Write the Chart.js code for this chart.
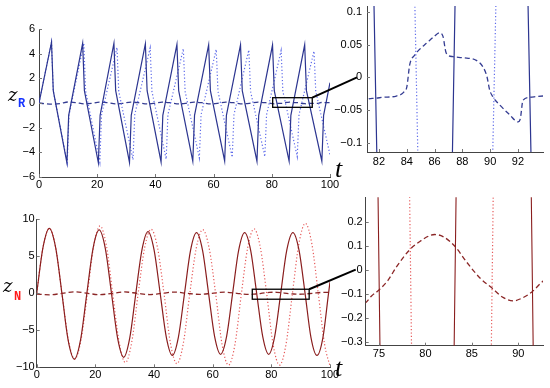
<!DOCTYPE html>
<html>
<head>
<meta charset="utf-8">
<script src="https://cdn.jsdelivr.net/npm/chart.js@4.4.1/dist/chart.umd.min.js"></script>
<style>
  body { margin: 0; background: #fff; }
  #wrap { position: relative; width: 550px; height: 388px; background: #fff; overflow: hidden; }
  #wrap canvas { position: absolute; }
  .lbl { position: absolute; white-space: nowrap; }
  .z { font-family: "DejaVu Serif", serif; font-style: italic; font-size: 18px; line-height: 18px; color: #000; }
  .sub { font-family: "Liberation Mono", monospace; font-weight: bold; font-size: 12px; line-height: 12px; }
  .t { font-family: "Liberation Serif", serif; font-style: italic; font-size: 26px; line-height: 26px; color: #000; }
</style>
</head>
<body>
<div id="wrap">
  <canvas id="rMain" width="365" height="195" style="left:0;top:0"></canvas>
  <canvas id="rZoom" width="220" height="175" style="left:330px;top:0"></canvas>
  <canvas id="nMain" width="365" height="193" style="left:0;top:195px"></canvas>
  <canvas id="nZoom" width="220" height="175" style="left:330px;top:190px"></canvas>
  <canvas id="overlay" width="550" height="388" style="left:0;top:0"></canvas>
  <div class="lbl z" style="left:8px;top:86px">z</div>
  <div class="lbl sub" style="left:18px;top:98px;color:#1533ff">R</div>
  <div class="lbl t" style="left:335px;top:156px">t</div>
  <div class="lbl z" style="left:3px;top:277px">z</div>
  <div class="lbl sub" style="left:14px;top:291px;color:#ff1a1a">N</div>
  <div class="lbl t" style="left:335px;top:355px">t</div>
</div>
<script>
// top row: z_R
const rSolidT = [0, 4.3, 4.9, 9.6, 10.2, 15.0, 15.6, 20.4, 21.0, 25.75, 26.35, 31.1, 31.7, 36.55, 37.15, 41.95, 42.55, 47.4, 48.0, 52.85, 53.45, 58.3, 58.9, 63.8, 64.4, 69.25, 69.85, 74.9, 75.5, 80.25, 80.85, 85.95, 86.55, 91.3, 91.9, 97.2, 97.8, 100];
const rSolidZ = [0, 4.93, 1.0, -4.85, -1.0, 4.85, 1.0, -4.85, -1.0, 4.85, 1.0, -4.82, -1.0, 4.8, 1.0, -4.78, -1.0, 4.75, 1.0, -4.72, -1.0, 4.72, 1.0, -4.7, -1.0, 4.72, 1.0, -4.72, -1.0, 4.7, 1.0, -4.72, -1.0, 4.72, 1.0, -4.72, -1.0, 1.65];

const rDotT = [0, 4.3, 4.9, 9.7, 10.3, 15.4, 16.0, 20.9, 21.5, 26.8, 27.4, 32.3, 32.9, 38.2, 38.8, 43.7, 44.3, 49.6, 50.2, 55.1, 55.7, 60.9, 61.5, 66.4, 67.0, 72.1, 72.7, 77.6, 78.2, 83.2, 83.8, 88.75, 89.35, 94.5, 95.1, 100];
const rDotZ = [0, 4.93, 1.0, -4.85, -1.0, 4.85, 1.0, -4.8, -0.95, 4.5, 0.95, -4.6, -0.95, 4.47, 0.95, -4.55, -0.95, 4.4, 0.95, -4.45, -0.95, 4.35, 0.95, -4.4, -0.95, 4.3, 0.95, -4.35, -0.95, 4.26, 0.95, -4.35, -0.95, 4.2, 0.95, -4.2];

const rDashT = [0, 2.0, 5.0, 7.3, 10.05, 12.6, 15.7, 18.0, 20.85, 23.4, 26.45, 28.8, 31.55, 34.1, 37.25, 39.5, 42.4, 45.0, 48.1, 50.4, 53.3, 55.9, 59.0, 61.3, 64.25, 66.8, 69.95, 72.3, 75.35, 77.9, 80.95,
  81.14, 81.57, 82.29, 83.25, 83.77, 84.01, 84.21, 84.57, 84.93, 85.41, 86.0, 86.36, 86.6, 86.84, 87.32, 88.04, 89.0, 89.48, 89.77, 89.96, 90.2, 90.68, 91.4, 92.0, 92.17, 92.36, 92.84, 93.8,
  96.0, 96.8, 97.65, 98.1, 100];
const rDashZ = [0, -0.06, -0.09, -0.04, 0.08, 0.035, -0.08, -0.035, 0.075, 0.03, -0.075, -0.03, 0.072, 0.03, -0.072, -0.03, 0.07, 0.03, -0.07, -0.03, 0.07, 0.03, -0.07, -0.03, 0.07, 0.03, -0.068, -0.03, 0.068, 0.028, -0.068,
  -0.0346, -0.032, -0.0305, -0.0285, -0.023, -0.014, 0.019, 0.034, 0.043, 0.052, 0.063, 0.068, 0.063, 0.037, 0.0316, 0.030, 0.026, 0.016, 0.001, -0.019, -0.030, -0.042, -0.057, -0.068, -0.063, -0.035, -0.0305, -0.0285,
  -0.025, 0.03, 0.068, 0.03, 0.028];

// bottom row: z_N
const nSolidT = [0, 2.15, 4.3, 6.45, 8.6, 10.7, 12.85, 14.95, 17.1, 19.2, 21.3, 23.4, 25.5, 27.6, 29.65, 31.7, 33.8, 35.9, 37.95, 40.0, 42.1, 44.2, 46.25, 48.3, 50.4, 52.45, 54.5, 56.55, 58.6, 60.65, 62.7, 64.75, 66.8, 68.85, 70.9, 72.95, 75.0, 77.05, 79.1, 81.15, 83.2, 85.25, 87.35, 89.45, 91.5, 93.5, 95.55, 97.6, 99.5, 100];
const nSolidZ = [0, 6.2, 8.78, 6.2, 0, -6.3, -8.9, -6.3, 0, 6.05, 8.56, 6.05, 0, -6.1, -8.65, -6.1, 0, 5.9, 8.33, 5.9, 0, -5.95, -8.4, -5.95, 0, 5.8, 8.2, 5.8, 0, -5.82, -8.24, -5.82, 0, 5.8, 8.2, 5.8, 0, -5.82, -8.24, -5.82, 0, 5.8, 8.2, 5.8, 0, -5.95, -8.4, -5.95, 0, 1.5];

const nDotT = [0, 2.15, 4.3, 6.45, 8.6, 10.8, 12.95, 15.1, 17.3, 19.45, 21.6, 23.75, 25.9, 28.1, 30.25, 32.4, 34.6, 36.8, 39.0, 41.2, 43.4, 45.6, 47.8, 50.0, 52.2, 54.4, 56.6, 58.8, 61.0, 63.2, 65.4, 67.6, 69.8, 71.95, 74.1, 76.25, 78.4, 80.6, 82.8, 85.0, 87.2, 89.4, 91.6, 93.8, 96.0, 98.2, 100];
const nDotZ = [0, 6.2, 8.78, 6.2, 0, -6.3, -8.9, -6.3, 0, 6.45, 9.1, 6.45, 0, -6.6, -9.35, -6.6, 0, 6.15, 8.65, 6.15, 0, -6.75, -9.5, -6.75, 0, 6.1, 8.6, 6.1, 0, -6.9, -9.7, -6.9, 0, 6.2, 8.7, 6.2, 0, -6.9, -9.7, -6.9, 0, 6.7, 9.45, 6.7, 0, -7.0, -9.85];

const nDashT = [0, 4.5, 8.75, 13.0, 17.25, 21.5, 25.75, 30.0, 34.25, 38.5, 42.75, 47.0, 51.25, 55.5, 59.75, 64.0, 68.25, 72.3, 73.5, 74.2, 75.0, 76.0, 76.9, 78.3, 79.4, 80.5, 81.0, 81.9, 83.2, 84.4, 85.9, 87.2, 88.4, 89.5, 90.5, 91.5, 92.3, 94.0, 98.0, 100];
const nDashZ = [-0.12, -0.2, 0, 0.19, 0, -0.19, 0, 0.18, 0, -0.17, 0, 0.16, 0, -0.15, 0, 0.15, 0, -0.15, -0.14, -0.11, -0.085, -0.043, 0.0125, 0.082, 0.117, 0.142, 0.146, 0.1375, 0.096, 0.033, -0.036, -0.078, -0.117, -0.13, -0.117, -0.092, -0.061, 0, 0.13, 0.1];

// tick labels
const mainTicksT = [0, 20, 40, 60, 80, 100];
const rTicksZ = [-6, -4, -2, 0, 2, 4, 6];
const nTicksZ = [-10, -5, 0, 5, 10];
const rZoomTicksT = [82, 84, 86, 88, 90, 92];
const rZoomTicksZ = [-0.1, -0.05, 0, 0.05, 0.1];
const nZoomTicksT = [75, 80, 85, 90];
const nZoomTicksZ = [-0.3, -0.2, -0.1, 0, 0.1, 0.2];

// zoom boxes [tMin, tMax, zMin, zMax]
const rBox = [80.3, 93.9, -0.35, 0.43];
const nBox = [73.5, 92.9, -0.8, 0.55];

const blue = { solid: "#2c3590", dot: "#5d6aea", dash: "#343c92" };
const red = { solid: "#8a1e1e", dot: "#e65a5a", dash: "#8b2626" };

function pts(ts, zs) {
  return ts.map((t, i) => ({ x: t, y: zs[i] }));
}

function fmt(v) {
  return String(v).replace("-", "\u2212");
}

const innerTicks = {
  id: "innerTicks",
  afterDraw(chart) {
    const ctx = chart.ctx;
    const a = chart.chartArea;
    ctx.save();
    ctx.strokeStyle = "#777";
    ctx.lineWidth = 1;
    ctx.beginPath();
    chart.scales.x.ticks.forEach((tk) => {
      const px = Math.round(chart.scales.x.getPixelForValue(tk.value)) + 0.5;
      ctx.moveTo(px, a.bottom);
      ctx.lineTo(px, a.bottom - 3);
    });
    chart.scales.y.ticks.forEach((tk) => {
      const py = Math.round(chart.scales.y.getPixelForValue(tk.value)) + 0.5;
      ctx.moveTo(a.left, py);
      ctx.lineTo(a.left + 3, py);
    });
    ctx.stroke();
    ctx.restore();
  },
};

function makeChart(id, opts) {
  const c = opts.colors;
  const w = opts.lineWidth || 1.2;
  return new Chart(document.getElementById(id), {
    type: "line",
    data: {
      datasets: [
        { data: pts(opts.solid[0], opts.solid[1]), borderColor: c.solid, borderWidth: w, tension: 0, cubicInterpolationMode: opts.smooth ? "monotone" : "default" },
        { data: pts(opts.dot[0], opts.dot[1]), borderColor: c.dot, borderWidth: 1.2, borderDash: [1.2, 2.2], tension: 0, cubicInterpolationMode: opts.smooth ? "monotone" : "default" },
        { data: pts(opts.dash[0], opts.dash[1]), borderColor: c.dash, borderWidth: 1.3, borderDash: [5, 3], cubicInterpolationMode: "monotone" },
      ],
    },
    options: {
      responsive: false,
      animation: false,
      events: [],
      layout: { padding: opts.pad },
      elements: { point: { radius: 0 } },
      plugins: { legend: { display: false }, tooltip: { enabled: false } },
      scales: {
        x: {
          type: "linear",
          min: opts.xr[0],
          max: opts.xr[1],
          grid: { display: false, drawTicks: false },
          border: { display: true, color: "#444", width: 1 },
          ticks: {
            color: "#000",
            font: { family: "Liberation Sans", size: 11 },
            padding: opts.xPad,
            maxRotation: 0,
            autoSkip: false,
            callback: fmt,
          },
          afterBuildTicks: (s) => { s.ticks = opts.xt.map((v) => ({ value: v })); },
          afterFit: (s) => { s.height = opts.xh; s.paddingLeft = 0; s.paddingRight = 0; },
        },
        y: {
          type: "linear",
          min: opts.yr[0],
          max: opts.yr[1],
          grid: { display: false, drawTicks: false },
          border: { display: true, color: "#444", width: 1 },
          ticks: {
            color: "#000",
            font: { family: "Liberation Sans", size: 11 },
            padding: opts.yPad,
            autoSkip: false,
            callback: fmt,
          },
          afterBuildTicks: (s) => { s.ticks = opts.yt.map((v) => ({ value: v })); },
          afterFit: (s) => { s.width = opts.yw; s.paddingTop = 0; s.paddingBottom = 0; },
        },
      },
    },
    plugins: [innerTicks],
  });
}

function drawZoomBox(ctx, main, zoom, box) {
  const ox = main.canvas.offsetLeft;
  const oy = main.canvas.offsetTop;
  const xs = main.scales.x;
  const ys = main.scales.y;
  const x0 = ox + xs.getPixelForValue(box[0]);
  const x1 = ox + xs.getPixelForValue(box[1]);
  const y0 = oy + ys.getPixelForValue(box[3]);
  const y1 = oy + ys.getPixelForValue(box[2]);
  ctx.strokeStyle = "#000";
  ctx.lineWidth = 1.3;
  ctx.strokeRect(x0, y0, x1 - x0, y1 - y0);
  const zx = zoom.canvas.offsetLeft + zoom.chartArea.left - 10;
  const zy = zoom.canvas.offsetTop + zoom.scales.y.getPixelForValue(0);
  ctx.lineWidth = 2;
  ctx.beginPath();
  ctx.moveTo(x1, y0);
  ctx.lineTo(zx, zy);
  ctx.stroke();
}

document.addEventListener("DOMContentLoaded", () => {
  const rMain = makeChart("rMain", {
    colors: blue,
    solid: [rSolidT, rSolidZ], dot: [rDotT, rDotZ], dash: [rDashT, rDashZ],
    xr: [0, 100], yr: [-6, 6], xt: mainTicksT, yt: rTicksZ,
    pad: { left: 0, top: 29, right: 35, bottom: 0 },
    yw: 39, xh: 18, xPad: 1, yPad: 4,
  });
  const rZoom = makeChart("rZoom", {
    colors: blue, lineWidth: 1.2,
    solid: [rSolidT, rSolidZ], dot: [rDotT, rDotZ], dash: [rDashT, rDashZ],
    xr: [81.14, 93.8], yr: [-0.114, 0.109], xt: rZoomTicksT, yt: rZoomTicksZ,
    pad: { left: 0, top: 6, right: 7, bottom: 0 },
    yw: 37, xh: 23, xPad: 3, yPad: 5,
  });
  const nMain = makeChart("nMain", {
    colors: red, smooth: true,
    solid: [nSolidT, nSolidZ], dot: [nDotT, nDotZ], dash: [nDashT, nDashZ],
    xr: [0, 100], yr: [-10, 10], xt: mainTicksT, yt: nTicksZ,
    pad: { left: 0, top: 24.3, right: 35, bottom: 0 },
    yw: 36.7, xh: 20.7, xPad: 1, yPad: 2,
  });
  const nZoom = makeChart("nZoom", {
    colors: red, smooth: true, lineWidth: 1.1,
    solid: [nSolidT, nSolidZ], dot: [nDotT, nDotZ], dash: [nDashT, nDashZ],
    xr: [73.57, 92.66], yr: [-0.317, 0.301], xt: nZoomTicksT, yt: nZoomTicksZ,
    pad: { left: 0, top: 7.3, right: 7, bottom: 0 },
    yw: 35.7, xh: 19.3, xPad: 2, yPad: 3,
  });

  const ctx = document.getElementById("overlay").getContext("2d");
  drawZoomBox(ctx, rMain, rZoom, rBox);
  drawZoomBox(ctx, nMain, nZoom, nBox);
});
</script>
</body>
</html>
